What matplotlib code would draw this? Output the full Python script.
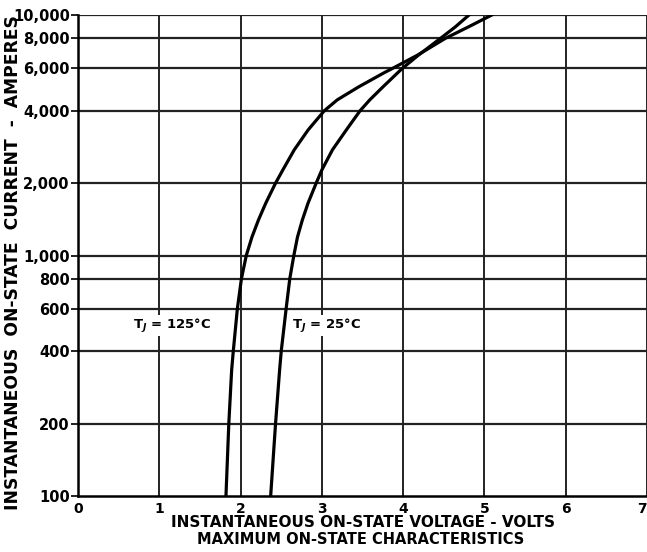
import matplotlib.pyplot as plt
from matplotlib.ticker import FixedLocator, NullLocator

# readings (volts, amperes)
i_pts = [100, 200, 334, 400, 600, 800, 1000, 1194, 1406, 1652, 2000, 2270,
         2750, 3325, 4000, 4440, 5020, 5740, 6000, 6820, 8000, 8915, 10000]
v_125 = [1.82, 1.855, 1.89, 1.91, 1.96, 2.01, 2.07, 2.14, 2.22, 2.31, 2.43, 2.52,
         2.66, 2.83, 3.03, 3.19, 3.45, 3.76, 3.87, 4.18, 4.52, 4.80, 5.09]
v_25 = [2.37, 2.43, 2.48, 2.50, 2.56, 2.605, 2.655, 2.70, 2.76, 2.83, 2.93, 3.00,
        3.13, 3.30, 3.47, 3.59, 3.75, 3.93, 3.99, 4.19, 4.46, 4.64, 4.81]

y_ticks = [100, 200, 400, 600, 800, 1000, 2000, 4000, 6000, 8000, 10000]
x_ticks = [0, 1, 2, 3, 4, 5, 6, 7]

plt.rcParams['font.family'] = ['DejaVu Sans']
plt.rcParams['font.weight'] = 'bold'

fig = plt.figure(figsize=(6.47, 5.52), dpi=100)
ax = fig.add_axes([0.1206, 0.1014, 0.8794, 0.8714])

ax.set_yscale('log')
ax.set_xlim(0, 7)
ax.set_ylim(100, 10000)

# grid
for x in x_ticks[1:]:
    ax.axvline(x, color='#222222', lw=1.4, zorder=1)
for y in y_ticks[1:]:
    ax.axhline(y, color='#222222', lw=1.6, zorder=1)

ax.plot(v_125, i_pts, color='black', lw=2.3, zorder=3)
ax.plot(v_25, i_pts, color='black', lw=2.3, zorder=3)

ax.yaxis.set_major_locator(FixedLocator(y_ticks))
ax.yaxis.set_minor_locator(NullLocator())
ax.set_yticklabels([f'{v:,}' for v in y_ticks], family=['Liberation Sans Narrow', 'DejaVu Sans'])
ax.set_xticks(x_ticks)
ax.set_xticklabels([str(v) for v in x_ticks])
ax.get_xticklabels()[-1].set_horizontalalignment('right')
ax.tick_params(axis='y', length=5, width=1.4, labelsize=10.5, pad=1, color='#222222')
ax.tick_params(axis='x', length=0, labelsize=10, pad=4)

for s in ['top', 'right']:
    ax.spines[s].set_visible(False)
ax.spines['left'].set_linewidth(1.8)
ax.spines['bottom'].set_linewidth(1.8)

box = dict(facecolor='white', edgecolor='none', pad=1)
ax.text(0.68, 510, 'T$_J$ = 125°C', fontsize=9.5, va='center', ha='left', bbox=box, zorder=2)
ax.text(2.63, 510, 'T$_J$ = 25°C', fontsize=9.5, va='center', ha='left', bbox=box, zorder=2)

fig.text(0.561, 0.054, 'INSTANTANEOUS ON-STATE VOLTAGE - VOLTS', ha='center', va='center', fontsize=11)
fig.text(0.557, 0.023, 'MAXIMUM ON-STATE CHARACTERISTICS', ha='center', va='center', fontsize=10.5)
fig.text(0.02, 0.525, 'INSTANTANEOUS  ON-STATE  CURRENT  -  AMPERES', rotation=90,
         ha='center', va='center', fontsize=12.3)

fig.savefig('out.png', dpi=100)
